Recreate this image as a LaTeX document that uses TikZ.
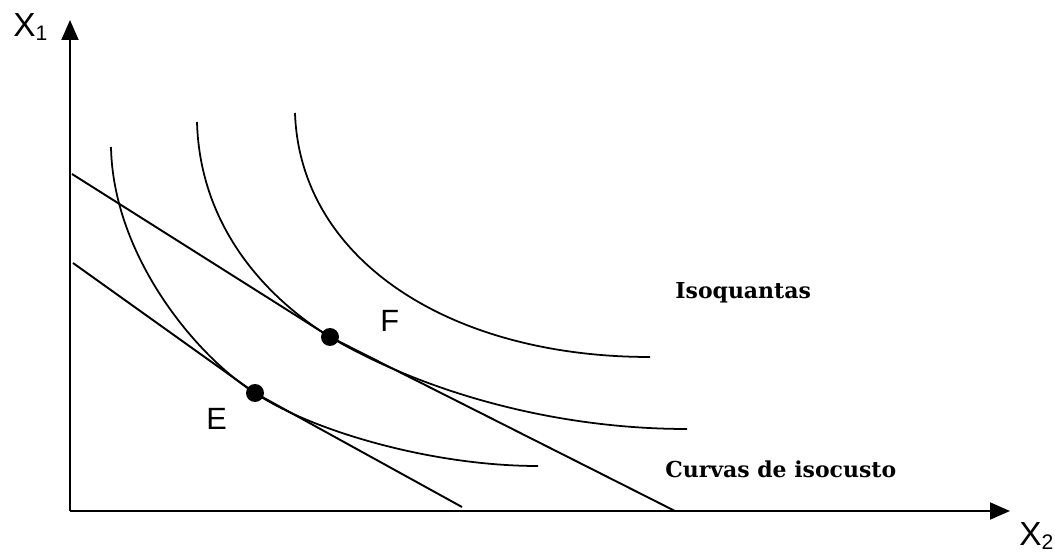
\documentclass[tikz,border=0pt]{standalone}
\usepackage{fontspec}
\setmainfont{Liberation Sans}
\newfontfamily\slabfont{DejaVu Serif}
\usepackage{tikz}
\usetikzlibrary{arrows.meta, positioning}

\tikzset{
  axis/.style={line width=1.1pt, -{Triangle[length=0.4cm, width=0.34cm]}},
  curve/.style={line width=1pt},
  budget/.style={line width=1.1pt},
  point/.style={circle, fill=black, inner sep=0pt, minimum size=0.36cm},
  letter/.style={font=\fontsize{17.5}{17.5}\selectfont, inner sep=0pt, anchor=base west},
  tag/.style={font=\slabfont\bfseries\fontsize{12.5}{12.5}\selectfont, inner sep=0pt, anchor=base west}
}
\newcommand{\axlabel}[2]{{\fontsize{19}{19}\selectfont #1}\raisebox{-0.08cm}{\fontsize{12}{12}\selectfont #2}}

\begin{document}
\begin{tikzpicture}[x=0.02cm, y=-0.02cm]
    \useasboundingbox (0,0) rectangle (1055,553);
    % Axes
    \coordinate (origin) at (70,511);
    \coordinate (ytip) at (70,20);
    \coordinate (xtip) at (1010,511);
    \draw[axis] (origin) -- (ytip);
    \draw[axis] (origin) -- (xtip);
    \node[letter] (xone) at (13,37) {\axlabel{X}{1}};
    \node[letter] (xtwo) at (1019,546) {\axlabel{X}{2}};

    % Isoquants (three levels), the two lower ones pass through E and F
    \coordinate (E) at (255,393);
    \coordinate (F) at (330,337);
    \draw[curve] (111,147) .. controls (113,255) and (195,355) .. (E)
                 .. controls (310,430) and (430,466) .. (538,466);
    \draw[curve] (197,122) .. controls (200,230) and (270,300) .. (F)
                 .. controls (420,390) and (550,429) .. (687,429);
    \draw[curve] (295,113) .. controls (300,260) and (450,357) .. (650,357);

    % Isocost lines, touching the isoquants at E and F
    \coordinate (lowtop) at (73,263);
    \coordinate (lowend) at (462,507);
    \coordinate (uptop) at (72,174);
    \coordinate (upend) at (675,511);
    \draw[budget] (lowtop) -- (E) -- (lowend);
    \draw[budget] (uptop) -- (F) -- (upend);
    \node[point] (Edot) at (E) {};
    \node[point] (Fdot) at (F) {};

    % Labels
    \node[letter] (Elabel) at (206,430) {E};
    \node[letter] (Flabel) at (380,332) {F};
    \node[tag] (isoq) at (675,299) {Isoquantas};
    \node[tag] (isoc) at (665,478) {Curvas de isocusto};
\end{tikzpicture}
\end{document}
